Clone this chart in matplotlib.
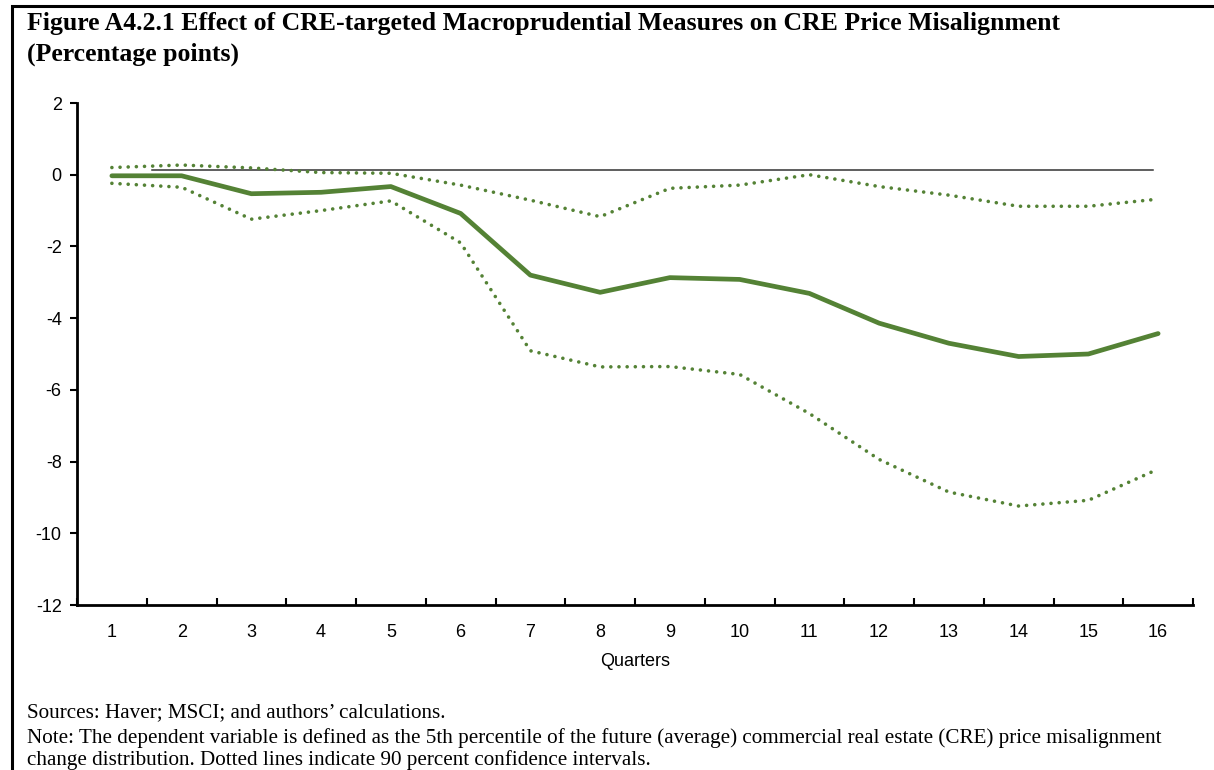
import matplotlib
matplotlib.use("Agg")
import matplotlib.pyplot as plt
from matplotlib.patches import Rectangle

quarters = list(range(1, 17))
point_estimate = [-0.03, -0.03, -0.53, -0.49, -0.33, -1.08, -2.80, -3.28, -2.87, -2.92,
                  -3.31, -4.14, -4.70, -5.07, -5.00, -4.43]
upper_ci = [0.20, 0.27, 0.19, 0.06, 0.04, -0.29, -0.71, -1.17, -0.38, -0.29,
            0.00, -0.33, -0.57, -0.88, -0.88, -0.68]
lower_ci = [-0.24, -0.35, -1.24, -1.00, -0.73, -1.90, -4.91, -5.36, -5.35, -5.57,
            -6.66, -7.94, -8.85, -9.24, -9.08, -8.21]
zero_line = 0.13
y_ticks = [2, 0, -2, -4, -6, -8, -10, -12]

title = ("Figure A4.2.1 Effect of CRE-targeted Macroprudential Measures on CRE Price Misalignment\n"
         "(Percentage points)")
sources = "Sources: Haver; MSCI; and authors\u2019 calculations."
note = ("Note: The dependent variable is defined as the 5th percentile of the future (average) commercial real estate (CRE) price misalignment\n"
        "change distribution. Dotted lines indicate 90 percent confidence intervals.")

green = "#548235"

fig = plt.figure(figsize=(12.14, 7.70), dpi=100)
W, H = 1214, 770

# border
fig.patches.append(Rectangle((12 / W, -0.1), 1.2, (H - 6) / H + 0.1, transform=fig.transFigure,
                             fill=False, edgecolor="black", linewidth=2.2))

ax = fig.add_axes([77 / W, (H - 605) / H, (1193 - 77) / W, (605 - 103) / H])

ax.axhline(zero_line, xmin=75 / 1116, xmax=1076 / 1116, color="#333333", linewidth=1.1, zorder=1)
ax.plot(quarters, point_estimate, color=green, linewidth=3.4, solid_joinstyle="round",
        solid_capstyle="round", zorder=3)
for s in (upper_ci, lower_ci):
    ax.plot(quarters, s, color=green, linewidth=2.6, linestyle=(0, (0.01, 2.25)),
            dash_capstyle="round", zorder=2)

ax.set_xlim(0.5, 16.5)
ax.set_ylim(-12, 2)
ax.set_yticks(y_ticks)
ax.set_yticklabels([str(v) for v in y_ticks])
ax.set_xticks([q + 0.5 for q in [0] + quarters])
ax.set_xticklabels([])
ax.set_xticks(quarters, minor=True)
ax.set_xticklabels([str(q) for q in quarters], minor=True)
ax.tick_params(axis="x", which="minor", length=0, pad=14, labelsize=13)
ax.tick_params(axis="x", which="major", direction="in", length=5, width=1.5)
ax.tick_params(axis="y", direction="out", length=5, width=1.5, labelsize=13, pad=6)
for lab in ax.get_xticklabels(minor=True) + ax.get_yticklabels():
    lab.set_fontfamily("Liberation Sans")
ax.spines["top"].set_visible(False)
ax.spines["right"].set_visible(False)
ax.spines["left"].set_linewidth(2)
ax.spines["bottom"].set_linewidth(2)
ax.set_xlabel("Quarters", fontsize=13, family="Liberation Sans", labelpad=8)

fig.text(27 / W, 1 - 12 / H, title, ha="left", va="top", fontsize=18.5, fontweight="bold",
         family="Liberation Serif", linespacing=1.4)
fig.text(27 / W, 1 - 703 / H, sources, ha="left", va="top", fontsize=15.2, family="Liberation Serif")
fig.text(27 / W, 1 - 728 / H, note, ha="left", va="top", fontsize=15.2, family="Liberation Serif",
         linespacing=1.18)

fig.savefig("out.png", dpi=100)
